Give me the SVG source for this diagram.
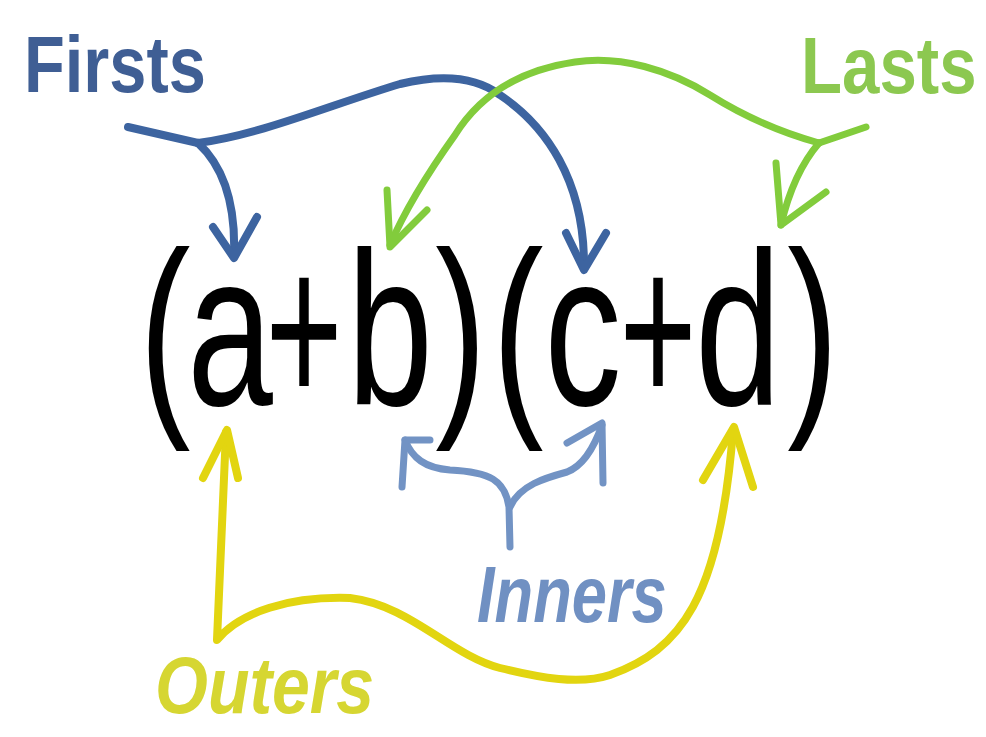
<svg xmlns="http://www.w3.org/2000/svg" width="986" height="737" viewBox="0 0 986 737">
<style>
.g{font-family:"Liberation Sans","DejaVu Sans",sans-serif;font-size:220px;fill:#000;text-anchor:middle}
.lbl{font-family:"Liberation Sans","DejaVu Sans",sans-serif;font-weight:bold;font-size:80px}
.c{fill:none;stroke-linecap:round;stroke-linejoin:round}
.blue{stroke:#3d64a0;stroke-width:8}
.green{stroke:#82cc3c;stroke-width:7}
.yellow{stroke:#e2d510;stroke-width:8}
.inner{stroke:#7293c4;stroke-width:7}
</style>
<rect width="986" height="737" fill="#ffffff"/>
<g id="expression">
<text class="g" transform="translate(165,405) scale(0.7,1)">(</text>
<text class="g" transform="translate(230,405) scale(0.7,1)">a</text>
<text class="g" transform="translate(304,405) scale(0.6,1)">+</text>
<text class="g" transform="translate(390,405) scale(0.7,1)">b</text>
<text class="g" transform="translate(461,405) scale(0.7,1)">)</text>
<text class="g" transform="translate(518,405) scale(0.7,1)">(</text>
<text class="g" transform="translate(583,405) scale(0.7,1)">c</text>
<text class="g" transform="translate(658,405) scale(0.6,1)">+</text>
<text class="g" transform="translate(738,405) scale(0.7,1)">d</text>
<text class="g" transform="translate(813,405) scale(0.7,1)">)</text>
</g>
<g id="firsts">
<text class="lbl" transform="translate(24,92) scale(0.835,1)" fill="#3f5e94">Firsts</text>
</g>
<g id="lasts">
<text class="lbl" transform="translate(801,93) scale(0.84,1)" font-size="78" fill="#8cc850">Lasts</text>
</g>
<g id="inners">
<text class="lbl" transform="translate(477,622) scale(0.79,1)" font-style="italic" font-weight="normal" fill="#7090c2">Inners</text>
</g>
<g id="outers">
<text class="lbl" transform="translate(155,713) scale(0.85,1)" font-style="italic" fill="#d6d632">Outers</text>
</g>
<g id="connectors">
<!-- Firsts -->
<path class="c blue" stroke-width="12" d="M128,127 L198,143"/>
<path class="c blue" d="M198,143 C260,135 330,105 400,84 C450,72 480,80 500,95 C545,125 585,180 584,268"/>
<path class="c blue" d="M566,233 L584,270 L606,233"/>
<path class="c blue" d="M198,143 C222,165 236,200 234,256"/>
<path class="c blue" d="M213,227 L234,258 L257,217"/>
<!-- Lasts -->
<path class="c green" stroke-width="9" d="M866,127 L819,143"/>
<path class="c green" d="M819,143 C790,135 750,120 710,95 C670,70 620,55 575,62 C520,70 480,95 455,135 C430,170 405,210 390,245"/>
<path class="c green" d="M387,190 L390,247 L427,210"/>
<path class="c green" d="M819,143 C800,165 788,195 781,225"/>
<path class="c green" d="M776,163 L781,225 L826,192"/>
<!-- Outers -->
<path class="c yellow" d="M226,432 L217,640 C240,612 290,596 350,598 C410,605 450,655 500,668 C540,678 580,685 610,675 C680,650 720,600 733,430"/>
<path class="c yellow" d="M203,478 L227,430 L238,478"/>
<path class="c yellow" d="M703,480 L734,427 L753,487"/>
<!-- Inners -->
<path class="c inner" d="M510,547 L509,507 C505,480 490,472 450,470 C425,468 412,458 405,440"/>
<path class="c inner" d="M430,440 L405,440 L402,487"/>
<path class="c inner" d="M510,507 C520,485 545,478 567,472 C585,465 595,445 602,425"/>
<path class="c inner" d="M567,443 L602,423 L603,483"/>
</g>
</svg>
